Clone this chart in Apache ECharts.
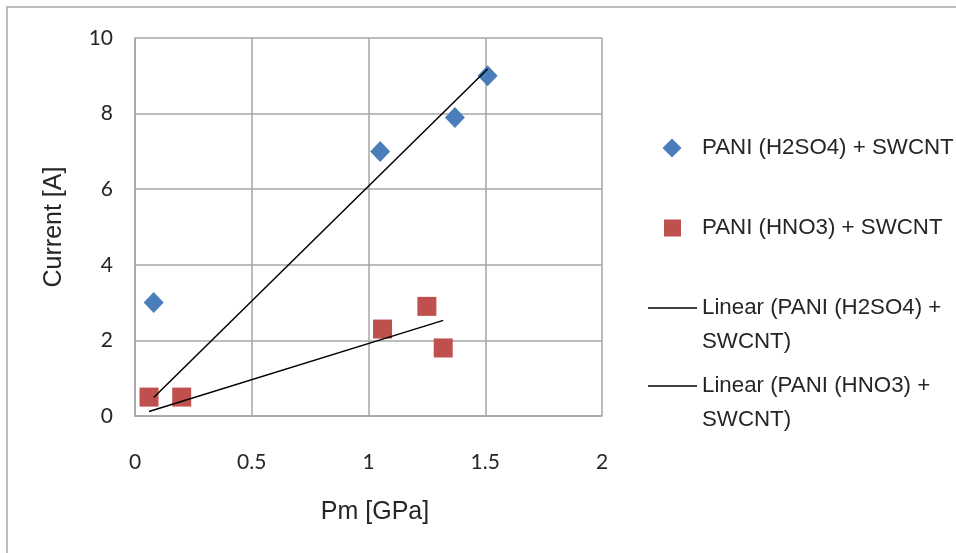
<!DOCTYPE html>
<html>
<head>
<meta charset="utf-8">
<script src="https://cdn.jsdelivr.net/npm/echarts@6/dist/echarts.min.js"></script>
<style>
  html, body { margin: 0; padding: 0; background: #fff; }
  #chart { width: 956px; height: 553px; }
</style>
</head>
<body>
<div id="chart"></div>
<script>
// Measured points: pressure (GPa) vs current (A)
const h2so4Pm = [0.08, 1.05, 1.37, 1.51];
const h2so4Current = [3.0, 7.0, 7.9, 9.0];
const hno3Pm = [0.06, 0.2, 1.06, 1.25, 1.32];
const hno3Current = [0.5, 0.5, 2.3, 2.9, 1.8];

// Linear trend line end points (x, y)
const h2so4TrendX = [0.08, 1.51];
const h2so4TrendY = [0.49, 9.18];
const hno3TrendX = [0.06, 1.32];
const hno3TrendY = [0.12, 2.53];

const xTicks = [0, 0.5, 1, 1.5, 2];
const yTicks = [0, 2, 4, 6, 8, 10];

const names = [
  'PANI (H2SO4) + SWCNT',
  'PANI (HNO3) + SWCNT',
  'Linear (PANI (H2SO4) + SWCNT)',
  'Linear (PANI (HNO3) + SWCNT)'
];

const pairs = (xs, ys) => xs.map((x, i) => [x, ys[i]]);

const gridColor = '#a6a6a6';
const textColor = '#262626';
const labelFont = 'Lato, "Open Sans", sans-serif';
const titleFont = '"Liberation Sans", Arial, sans-serif';

const chart = echarts.init(document.getElementById('chart'), null, { renderer: 'canvas' });

const legendText = {
  fontFamily: titleFont,
  fontSize: 22.3,
  color: textColor
};

chart.setOption({
  animation: false,
  backgroundColor: '#ffffff',
  graphic: [{
    type: 'rect',
    shape: { x: 7, y: 7, width: 1000, height: 1000 },
    style: { fill: 'none', stroke: '#a8a8a8', lineWidth: 1.5 },
    silent: true,
    z: -1
  }],
  grid: { left: 135, right: 354, top: 38, bottom: 137 },
  xAxis: {
    type: 'value',
    min: xTicks[0],
    max: xTicks[xTicks.length - 1],
    interval: 0.5,
    name: 'Pm [GPa]',
    nameLocation: 'middle',
    nameGap: 84,
    nameTextStyle: { fontFamily: titleFont, fontSize: 25, color: textColor, padding: [0, 0, 0, 13] },
    axisLine: { show: true, lineStyle: { color: gridColor, width: 1.5 } },
    axisTick: { show: false },
    axisLabel: { margin: 36, fontFamily: labelFont, fontSize: 21, color: textColor },
    splitLine: { show: true, lineStyle: { color: gridColor, width: 1.5 } }
  },
  yAxis: {
    type: 'value',
    min: yTicks[0],
    max: yTicks[yTicks.length - 1],
    interval: 2,
    name: 'Current [A]',
    nameLocation: 'middle',
    nameGap: 68,
    nameTextStyle: { fontFamily: titleFont, fontSize: 25, color: textColor },
    axisLine: { show: true, lineStyle: { color: gridColor, width: 1.5 } },
    axisTick: { show: false },
    axisLabel: { margin: 22, fontFamily: labelFont, fontSize: 21, color: textColor },
    splitLine: { show: true, lineStyle: { color: gridColor, width: 1.5 } }
  },
  legend: [
    {
      data: [{ name: names[0], icon: 'diamond' }],
      left: 662.5, top: 137, padding: 0,
      itemWidth: 19, itemHeight: 19,
      textStyle: Object.assign({ padding: [0, 0, 0, 15.5] }, legendText),
      selectedMode: false
    },
    {
      data: [{ name: names[1], icon: 'rect' }],
      left: 664, top: 217, padding: 0,
      itemWidth: 17, itemHeight: 17,
      textStyle: Object.assign({ padding: [0, 0, 0, 16] }, legendText),
      selectedMode: false
    },
    {
      data: [{ name: names[2], icon: 'rect' }],
      left: 648, top: 257, padding: 0,
      itemWidth: 49, itemHeight: 1.5,
      formatter: () => ' \nLinear (PANI (H2SO4) +\nSWCNT)',
      textStyle: Object.assign({ lineHeight: 34 }, legendText),
      selectedMode: false
    },
    {
      data: [{ name: names[3], icon: 'rect' }],
      left: 648, top: 335, padding: 0,
      itemWidth: 49, itemHeight: 1.5,
      formatter: () => ' \nLinear (PANI (HNO3) +\nSWCNT)',
      textStyle: Object.assign({ lineHeight: 34 }, legendText),
      selectedMode: false
    }
  ],
  series: [
    {
      name: names[2],
      type: 'line',
      data: pairs(h2so4TrendX, h2so4TrendY),
      showSymbol: false,
      symbol: 'none',
      lineStyle: { color: '#000000', width: 1.5 },
      itemStyle: { color: '#000000' },
      z: 3
    },
    {
      name: names[3],
      type: 'line',
      data: pairs(hno3TrendX, hno3TrendY),
      showSymbol: false,
      symbol: 'none',
      lineStyle: { color: '#000000', width: 1.5 },
      itemStyle: { color: '#000000' },
      z: 3
    },
    {
      name: names[0],
      type: 'scatter',
      data: pairs(h2so4Pm, h2so4Current),
      symbol: 'diamond',
      symbolSize: [20, 21],
      itemStyle: { color: '#4a7ebb', opacity: 1 },
      z: 2
    },
    {
      name: names[1],
      type: 'scatter',
      data: pairs(hno3Pm, hno3Current),
      symbol: 'rect',
      symbolSize: 19,
      itemStyle: { color: '#c0504d', opacity: 1 },
      z: 2
    }
  ]
});
</script>
</body>
</html>
